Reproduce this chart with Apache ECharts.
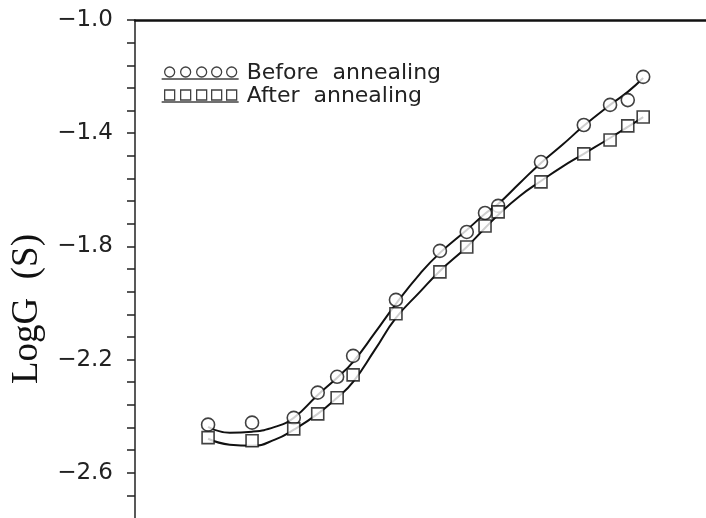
<!DOCTYPE html>
<html>
<head>
<meta charset="utf-8">
<script src="https://cdn.jsdelivr.net/npm/echarts@6/dist/echarts.min.js"></script>
<style>
  html, body { margin: 0; padding: 0; background: #fff; }
  #chart { width: 706px; height: 518px; }
</style>
</head>
<body>
<div id="chart"></div>
<script>
// measured points (x in arbitrary units, y = LogG)
const xs = [1.28, 2.05, 2.78, 3.20, 3.54, 3.82, 4.57, 5.34, 5.81, 6.13, 6.36, 7.11, 7.86, 8.32, 8.63, 8.90]
const beforeVals = [-2.430, -2.423, -2.406, -2.317, -2.261, -2.187, -1.989, -1.816, -1.749, -1.682, -1.657, -1.502, -1.371, -1.300, -1.283, -1.201]
const afterVals = [-2.476, -2.487, -2.445, -2.392, -2.335, -2.254, -2.038, -1.890, -1.802, -1.728, -1.678, -1.572, -1.473, -1.424, -1.374, -1.343]

// fitted curves as drawn
const fitXs = [1.28, 1.66, 2.05, 2.45, 2.78, 3.20, 3.54, 3.82, 4.20, 4.57, 4.99, 5.34, 5.81, 6.13, 6.36, 6.74, 7.11, 7.48, 7.86, 8.32, 8.63, 8.90]
const beforeFit = [-2.438, -2.459, -2.455, -2.438, -2.406, -2.325, -2.264, -2.208, -2.106, -2.003, -1.897, -1.823, -1.742, -1.685, -1.650, -1.576, -1.505, -1.442, -1.374, -1.300, -1.254, -1.205]
const afterFit = [-2.480, -2.501, -2.505, -2.483, -2.448, -2.392, -2.335, -2.279, -2.166, -2.053, -1.961, -1.887, -1.802, -1.735, -1.689, -1.622, -1.569, -1.519, -1.473, -1.417, -1.378, -1.343]

const yTickLabels = [-2.6, -2.2, -1.8, -1.4, -1.0]

const zip = (a, b) => a.map((v, i) => [v, b[i]])

// legend icons: a row of five markers over a rule
const circleRow = 'path://' + [8, 24, 40, 55, 70].map(c =>
    'M' + (c - 5) + ' 6 A5 5 0 1 0 ' + (c + 5) + ' 6 A5 5 0 1 0 ' + (c - 5) + ' 6 Z').join(' ') + ' M0 13 L77 13'
const squareRow = 'path://' + [8, 24, 40, 55, 70].map(c =>
    'M' + (c - 5) + ' 1 L' + (c + 5) + ' 1 L' + (c + 5) + ' 11 L' + (c - 5) + ' 11 Z').join(' ') + ' M0 13 L77 13'

const chart = echarts.init(document.getElementById('chart'))

const option = {
    backgroundColor: '#fff',
    animation: false,
    grid: {
        left: 135,
        right: 0,
        top: 20,
        bottom: 0
    },
    legend: {
        orient: 'vertical',
        left: 156,
        top: 57,
        itemWidth: 77,
        itemHeight: 12,
        itemGap: 1,
        formatter: (name) => name.replace(' ', '  '),
        itemStyle: { color: '#fff', borderColor: '#111', borderWidth: 1.3 },
        textStyle: {
            fontFamily: 'DejaVu Sans',
            fontSize: 22,
            lineHeight: 22,
            color: '#222',
            padding: [0, 0, 0, 3]
        },
        data: [
            { name: 'Before annealing', icon: circleRow },
            { name: 'After annealing', icon: squareRow }
        ]
    },
    xAxis: {
        type: 'value',
        position: 'top',
        min: 0,
        max: 10,
        axisLine: { show: true, lineStyle: { color: '#111', width: 2.5 } },
        axisTick: { show: false },
        axisLabel: { show: false },
        splitLine: { show: false }
    },
    yAxis: {
        type: 'value',
        // the scan is cut off just below -2.76; ticks step 0.08 from there
        min: -2.76,
        max: -1.0,
        interval: 0.08,
        name: 'LogG  (S)',
        nameLocation: 'middle',
        nameGap: 82,
        nameTextStyle: {
            fontFamily: 'Liberation Serif',
            fontSize: 37,
            color: '#111',
            padding: [0, 80, 0, 0]
        },
        axisLine: { show: true, lineStyle: { color: '#222', width: 1.5 } },
        axisTick: { show: true, inside: false, length: 8, lineStyle: { color: '#222', width: 1.5 } },
        axisLabel: {
            margin: 22,
            fontFamily: 'DejaVu Sans',
            fontSize: 23,
            color: '#222',
            showMinLabel: false,
            formatter: (v) => {
                const hit = yTickLabels.some(t => Math.abs(t - v) < 1e-6)
                return hit ? '\u2212' + Math.abs(v).toFixed(1) : ''
            }
        },
        splitLine: { show: false }
    },
    series: [
        {
            name: 'fitBefore',
            type: 'line',
            data: zip(fitXs, beforeFit),
            smooth: true,
            showSymbol: false,
            lineStyle: { color: '#111', width: 2 },
            z: 2
        },
        {
            name: 'fitAfter',
            type: 'line',
            data: zip(fitXs, afterFit),
            smooth: true,
            showSymbol: false,
            lineStyle: { color: '#111', width: 2 },
            z: 2
        },
        {
            name: 'Before annealing',
            type: 'scatter',
            data: zip(xs, beforeVals),
            symbol: 'circle',
            symbolSize: 13,
            itemStyle: { color: '#fff', borderColor: '#111', borderWidth: 1.6 },
            z: 3
        },
        {
            name: 'After annealing',
            type: 'scatter',
            data: zip(xs, afterVals),
            symbol: 'rect',
            symbolSize: 12,
            itemStyle: { color: '#fff', borderColor: '#111', borderWidth: 1.6 },
            z: 3
        }
    ]
}

chart.setOption(option)
</script>
</body>
</html>
